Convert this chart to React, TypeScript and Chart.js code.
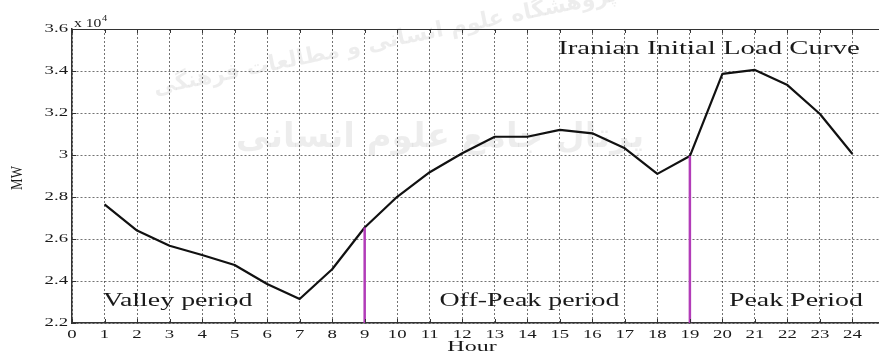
import React, { useEffect, useRef } from 'react';
import { Chart, registerables } from 'chart.js';

Chart.register(...registerables);

// ---- data ----
const hours = [1, 2, 3, 4, 5, 6, 7, 8, 9, 10, 11, 12, 13, 14, 15, 16, 17, 18, 19, 20, 21, 22, 23, 24];
const loadMW = [27650, 26400, 25680, 25240, 24760, 23860, 23140, 24560, 26550, 28010, 29180, 30080, 30870, 30870, 31200, 31030, 30320, 29100, 29950, 33860, 34050, 33330, 31950, 30050];
const xTickValues = [0, 1, 2, 3, 4, 5, 6, 7, 8, 9, 10, 11, 12, 13, 14, 15, 16, 17, 18, 19, 20, 21, 22, 23, 24];
const xTickLabels = xTickValues.map(String);
const yTickValues = [22000, 24000, 26000, 28000, 30000, 32000, 34000, 36000];
const yTickLabels = ['2.2', '2.4', '2.6', '2.8', '3', '3.2', '3.4', '3.6'];
const periodBoundaryHours = [9, 19];
const periodLabels = ['Valley period', 'Off-Peak period', 'Peak Period'];
const periodLabelHours = [0.95, 11.3, 20.2];
const periodLabelLoad = 23050;
const chartTitle = 'Iranian Initial Load Curve';
const titleHour = 14.95;
const titleLoad = 35050;
const xAxisTitle = 'Hour';
const yAxisTitle = 'MW';
const watermark1 = 'پژوهشگاه علوم انسانی و مطالعات فرهنگی';
const watermark2 = 'پرتال جامع علوم انسانی';

const SERIF = "'Liberation Serif', 'Times New Roman', serif";

function stretchText(ctx: CanvasRenderingContext2D, text: string, x: number, y: number, sx: number, sy: number, align: CanvasTextAlign, baseline: CanvasTextBaseline) {
  ctx.save();
  ctx.translate(x, y);
  ctx.scale(sx, sy);
  ctx.textAlign = align;
  ctx.textBaseline = baseline;
  ctx.fillText(text, 0, 0);
  ctx.restore();
}

const backgroundPlugin = {
  id: 'bgWatermark',
  beforeDraw(chart: any) {
    const { ctx, width, height } = chart;
    ctx.save();
    ctx.fillStyle = '#ffffff';
    ctx.fillRect(0, 0, width, height);
    ctx.fillStyle = 'rgba(0,0,0,0.07)';
    ctx.font = "bold 22px 'DejaVu Sans', sans-serif";
    ctx.translate(385, 42);
    ctx.rotate(-0.2);
    ctx.textAlign = 'center';
    ctx.textBaseline = 'middle';
    ctx.fillText(watermark1, 0, 0);
    ctx.restore();
    ctx.save();
    ctx.fillStyle = 'rgba(0,0,0,0.07)';
    ctx.font = "bold 34px 'DejaVu Sans', sans-serif";
    ctx.textAlign = 'left';
    ctx.textBaseline = 'middle';
    const w = ctx.measureText(watermark2).width;
    ctx.fillText(watermark2, 440 - w / 2, 138);
    ctx.restore();
  },
};

const overlayPlugin = {
  id: 'overlay',
  afterDraw(chart: any) {
    const { ctx, chartArea } = chart;
    const x = chart.scales.x;
    const y = chart.scales.y;
    ctx.save();
    // top border
    ctx.strokeStyle = '#333';
    ctx.lineWidth = 1.2;
    ctx.setLineDash([]);
    ctx.beginPath();
    ctx.moveTo(chartArea.left, chartArea.top + 0.5);
    ctx.lineTo(chartArea.right, chartArea.top + 0.5);
    ctx.stroke();
    // inward tick marks
    ctx.lineWidth = 1;
    ctx.strokeStyle = '#333';
    ctx.beginPath();
    xTickValues.forEach((v) => {
      const px = Math.round(x.getPixelForValue(v)) + 0.5;
      ctx.moveTo(px, chartArea.bottom);
      ctx.lineTo(px, chartArea.bottom - 4);
      ctx.moveTo(px, chartArea.top);
      ctx.lineTo(px, chartArea.top + 4);
    });
    yTickValues.forEach((v) => {
      const py = Math.round(y.getPixelForValue(v)) + 0.5;
      ctx.moveTo(chartArea.left, py);
      ctx.lineTo(chartArea.left + 4, py);
    });
    ctx.stroke();

    ctx.fillStyle = '#1a1a1a';
    // tick labels
    ctx.font = `12.5px ${SERIF}`;
    xTickValues.forEach((v, i) => {
      stretchText(ctx, xTickLabels[i], x.getPixelForValue(v), chartArea.bottom + 12, 1.5, 1, 'center', 'middle');
    });
    yTickValues.forEach((v, i) => {
      stretchText(ctx, yTickLabels[i], chartArea.left - 4, y.getPixelForValue(v), 1.5, 1, 'right', 'middle');
    });
    // exponent
    ctx.font = `12px ${SERIF}`;
    stretchText(ctx, 'x 10', chartArea.left + 2, 27, 1.3, 1, 'left', 'alphabetic');
    ctx.font = `8px ${SERIF}`;
    stretchText(ctx, '4', chartArea.left + 30, 21, 1.3, 1, 'left', 'alphabetic');
    // axis titles
    ctx.font = `15px ${SERIF}`;
    stretchText(ctx, xAxisTitle, x.getPixelForValue(12.3), 351, 1.6, 1, 'center', 'alphabetic');
    ctx.save();
    ctx.translate(18, 178);
    ctx.rotate(-Math.PI / 2);
    ctx.scale(1, 1.3);
    ctx.font = `13px ${SERIF}`;
    ctx.textAlign = 'center';
    ctx.textBaseline = 'middle';
    ctx.fillText(yAxisTitle, 0, 0);
    ctx.restore();
    // annotations
    ctx.font = `18px ${SERIF}`;
    periodLabels.forEach((t, i) => {
      stretchText(ctx, t, x.getPixelForValue(periodLabelHours[i]), y.getPixelForValue(periodLabelLoad), 1.55, 1, 'left', 'middle');
    });
    stretchText(ctx, chartTitle, x.getPixelForValue(titleHour), y.getPixelForValue(titleLoad), 1.6, 1, 'left', 'middle');
    ctx.restore();
  },
};

export default function App() {
  const canvasRef = useRef<HTMLCanvasElement | null>(null);

  useEffect(() => {
    const canvas = canvasRef.current;
    if (!canvas) return;
    const loadPoints = hours.map((h, i) => ({ x: h, y: loadMW[i] }));
    const boundaryDatasets = periodBoundaryHours.map((h) => ({
      label: `boundary ${h}`,
      data: [
        { x: h, y: yTickValues[0] },
        { x: h, y: loadMW[hours.indexOf(h)] },
      ],
      borderColor: '#b23cb8',
      borderWidth: 2.5,
      pointRadius: 0,
      tension: 0,
      fill: false,
    }));
    const chart = new Chart(canvas, {
      type: 'line',
      data: {
        datasets: [
          ...boundaryDatasets,
          {
            label: 'Load',
            data: loadPoints,
            borderColor: '#111',
            borderWidth: 2.2,
            pointRadius: 0,
            tension: 0,
            fill: false,
            borderJoinStyle: 'round',
          },
        ],
      } as any,
      options: {
        responsive: false,
        maintainAspectRatio: false,
        animation: false,
        devicePixelRatio: 1,
        layout: { padding: { left: 72, top: 29, right: 5, bottom: 28 } },
        plugins: { legend: { display: false }, tooltip: { enabled: false }, title: { display: false } },
        scales: {
          x: {
            type: 'linear',
            min: 0,
            max: 25,
            afterBuildTicks: (scale: any) => {
              scale.ticks = xTickValues.map((v) => ({ value: v }));
            },
            afterFit: (scale: any) => {
              scale.height = 0;
            },
            ticks: { display: false },
            grid: { color: 'rgba(0,0,0,0.55)', lineWidth: 1, drawTicks: false },
            border: { display: true, color: '#333', width: 1.5, dash: [2, 2] },
          },
          y: {
            type: 'linear',
            min: 22000,
            max: 36000,
            afterBuildTicks: (scale: any) => {
              scale.ticks = yTickValues.map((v) => ({ value: v }));
            },
            afterFit: (scale: any) => {
              scale.width = 0;
            },
            ticks: { display: false },
            grid: { color: 'rgba(0,0,0,0.55)', lineWidth: 1, drawTicks: false },
            border: { display: true, color: '#333', width: 1.5, dash: [2, 2] },
          },
        },
      } as any,
      plugins: [backgroundPlugin, overlayPlugin],
    });
    return () => chart.destroy();
  }, []);

  return (
    <div style={{ position: 'fixed', left: 0, top: 0, width: 879, height: 351, overflow: 'hidden', background: '#fff' }}>
      <canvas ref={canvasRef} width={890} height={351} style={{ display: 'block', width: 890, height: 351 }} />
    </div>
  );
}
